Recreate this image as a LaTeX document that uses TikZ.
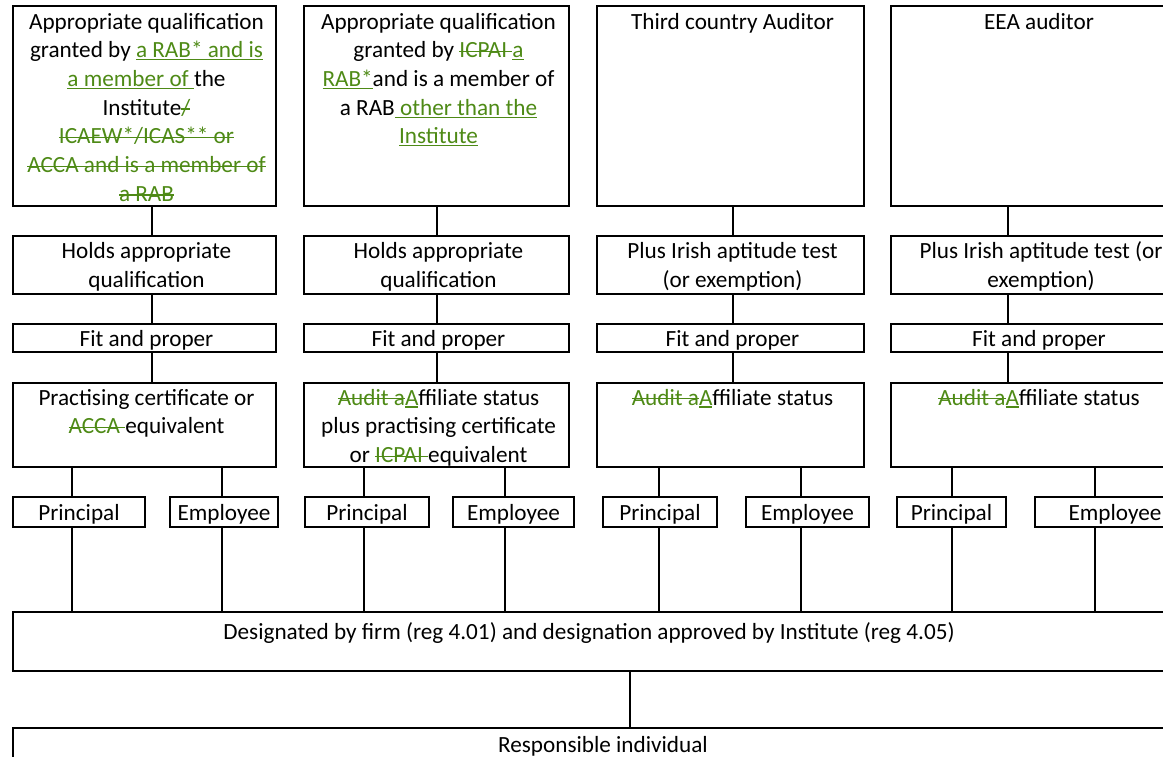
\documentclass[tikz,border=0pt]{standalone}
\usepackage{fontspec}
\setmainfont{Carlito}
\definecolor{trk}{RGB}{78,138,22}
\newcommand\insx[1]{{\color{trk}\setbox0\hbox{#1}\rlap{\rule[-2.6pt]{\wd0}{1.2pt}}\box0}}
\newcommand\delx[1]{{\color{trk}\setbox0\hbox{#1}\rlap{\rule[5.6pt]{\wd0}{1.2pt}}\box0}}
\newcommand\st{\strut}
\tikzset{
  box/.style={draw, line width=1.8pt, inner sep=0pt, outer sep=0pt, anchor=north west},
  txt/.style={font=\fontsize{23.2}{28.7}\selectfont, align=center, inner sep=0pt, outer sep=0pt},
  con/.style={line width=1.4pt},
}
\begin{document}
\begin{tikzpicture}[x=1pt,y=-1pt]
\useasboundingbox (0,0) rectangle (1163,757);
\clip (0,0) rectangle (1163,757);

% column boxes
\foreach \i/\x/\w in {1/13/263, 2/304/265, 3/597/267, 4/891/296} {
  \node[box, minimum width=\w pt, minimum height=200pt] (c\i a) at (\x,6) {};
  \node[box, minimum width=\w pt, minimum height=58pt] (c\i b) at (\x,236) {};
  \node[box, minimum width=\w pt, minimum height=28pt] (c\i c) at (\x,324) {};
  \node[box, minimum width=\w pt, minimum height=84pt] (c\i d) at (\x,383) {};
}

% principal / employee boxes
\foreach \n/\x/\w in {p1/13/132, e1/170/108, p2/305/124, e2/453/121,
                      p3/603/114, e3/746/123, p4/897/109, e4/1035/160} {
  \node[box, minimum width=\w pt, minimum height=30pt] (\n) at (\x,497) {};
}

% bottom boxes
\node[box, minimum width=1152pt, minimum height=59pt] (des) at (13,612) {};
\node[box, minimum width=1180pt, minimum height=60pt] (res) at (13,728) {};

% texts: top row
\node[txt, anchor=north] (t1a) at ([shift={(2pt,-3pt)}]c1a.north)
  {\st Appropriate qualification\\ \st granted by \insx{a RAB* and is}\\
   \st\insx{a member of }the\\ \st Institute\delx{/}\\
   \st\delx{ICAEW*/ICAS** or}\\ \st\delx{ACCA and is a member of}\\ \st\delx{a RAB}};
\node[txt, anchor=north] (t2a) at ([shift={(2pt,-3pt)}]c2a.north)
  {\st Appropriate qualification\\ \st granted by \delx{ICPAI }\insx{a}\\
   \st\insx{RAB*}and is a member of\\ \st a RAB\insx{ other than the}\\ \st\insx{Institute}};
\node[txt, anchor=north] (t3a) at ([shift={(2pt,-3pt)}]c3a.north) {\st Third country Auditor};
\node[txt, anchor=north] (t4a) at ([shift={(0pt,-3pt)}]c4a.north) {\st EEA auditor};

% second row
\node[txt] (t1b) at ([shift={(2pt,-2.5pt)}]c1b.center) {\st Holds appropriate\\ \st qualification};
\node[txt] (t2b) at ([shift={(2pt,-2.5pt)}]c2b.center) {\st Holds appropriate\\ \st qualification};
\node[txt] (t3b) at ([shift={(2pt,-2.5pt)}]c3b.center) {\st Plus Irish aptitude test\\ \st (or exemption)};
\node[txt] (t4b) at ([shift={(2pt,-2.5pt)}]c4b.center) {\st Plus Irish aptitude test (or\\ \st exemption)};

% third row
\foreach \i in {1,2,3} {
  \node[txt] (t\i c) at ([shift={(2pt,-2.5pt)}]c\i c.center) {\st Fit and proper};
}
\node[txt] (t4c) at ([shift={(0pt,-2.5pt)}]c4c.center) {\st Fit and proper};

% fourth row
\node[txt, anchor=north] (t1d) at ([shift={(2pt,-2pt)}]c1d.north)
  {\st Practising certificate or\\ \st\delx{ACCA }equivalent};
\node[txt, anchor=north] (t2d) at ([shift={(2pt,-2pt)}]c2d.north)
  {\st\delx{Audit a}\insx{A}ffiliate status\\ \st plus practising certificate\\ \st or \delx{ICPAI }equivalent};
\node[txt, anchor=north] (t3d) at ([shift={(2pt,-2pt)}]c3d.north)
  {\st\delx{Audit a}\insx{A}ffiliate status};
\node[txt, anchor=north] (t4d) at ([shift={(0pt,-2pt)}]c4d.north)
  {\st\delx{Audit a}\insx{A}ffiliate status};

% principal / employee texts
\foreach \i in {1,2,3,4} {
  \node[txt] (tp\i) at ([yshift=-2.5pt]p\i.center) {\st Principal};
  \node[txt] (te\i) at ([yshift=-2.5pt]e\i.center) {\st Employee};
}

% bottom texts
\node[txt, anchor=north] (tdes) at ([yshift=-7pt]des.north)
  {\st Designated by firm (reg 4.01) and designation approved by Institute (reg 4.05)};
\node[txt, anchor=north] (tres) at ([yshift=-4pt]res.north) {\st Responsible individual};

% connector x positions
\coordinate (X1) at (152,0);
\coordinate (X2) at (437,0);
\coordinate (X3) at (733,0);
\coordinate (X4) at (1008,0);
\coordinate (xp1) at (72,0);
\coordinate (xe1) at (222,0);
\coordinate (xp2) at (364,0);
\coordinate (xe2) at (505,0);
\coordinate (xp3) at (659,0);
\coordinate (xe3) at (801,0);
\coordinate (xp4) at (952,0);
\coordinate (xe4) at (1095,0);
\coordinate (xd) at (630,0);

% column spines
\foreach \i in {1,2,3,4} {
  \draw[con] (c\i a.south -| X\i) -- (c\i b.north -| X\i);
  \draw[con] (c\i b.south -| X\i) -- (c\i c.north -| X\i);
  \draw[con] (c\i c.south -| X\i) -- (c\i d.north -| X\i);
  \draw[con] (c\i d.south -| xp\i) -- (p\i.north -| xp\i);
  \draw[con] (c\i d.south -| xe\i) -- (e\i.north -| xe\i);
  \draw[con] (p\i.south -| xp\i) -- (des.north -| xp\i);
  \draw[con] (e\i.south -| xe\i) -- (des.north -| xe\i);
}
\draw[con] (des.south -| xd) -- (res.north -| xd);
\end{tikzpicture}
\end{document}
